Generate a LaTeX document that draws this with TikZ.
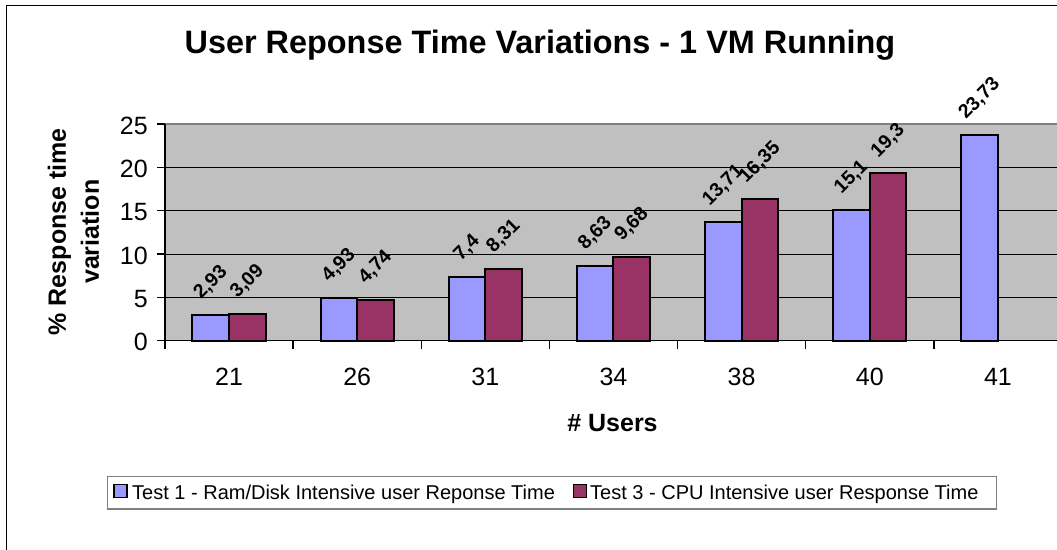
\documentclass[tikz,border=0pt]{standalone}
\usepackage{fontspec}
\setmainfont{Liberation Sans}
\usepackage{graphicx}
\definecolor{barblue}{HTML}{9999FF}
\definecolor{barred}{HTML}{993366}
\definecolor{plotgray}{HTML}{C0C0C0}
\definecolor{framegray}{HTML}{808080}
\newcommand{\catbar}[4]{%
  \pgfmathsetmacro{\mybx}{165+#1*128.14+27.46+#2*36.61}%
  \pgfmathsetmacro{\mybtop}{340.7-#3*8.664}%
  \path[bar#2] (\mybx,340.7) rectangle ({\mybx+36.61},\mybtop);%
  \node[datalbl] (lbl#1-#2) at ({\mybx+18.3},{\mybtop-13}) {\rotatebox{45}{#4}};%
}
\begin{document}
\begin{tikzpicture}[x=1pt,y=-1pt,
  bar0/.style={draw=black, line width=2pt, fill=barblue},
  bar1/.style={draw=black, line width=2pt, fill=barred},
  gridline/.style={black, line width=1pt},
  axisline/.style={black, line width=1.3pt},
  ticklbl/.style={font=\fontsize{25}{28}\selectfont, inner sep=0pt},
  axistitle/.style={font=\fontsize{25}{33}\selectfont\bfseries, inner sep=0pt},
  datalbl/.style={font=\fontsize{19.5}{22}\selectfont\bfseries, inner sep=0pt, anchor=south},
  legendtext/.style={font=\fontsize{20}{23}\selectfont, inner sep=0pt, anchor=base west},
  legendkey/.style={draw=black, line width=1.5pt, minimum size=13pt, inner sep=0pt}]
\useasboundingbox (0,0) rectangle (1057,549);
\clip (0,0) rectangle (1057,549);
% outer chart frame
\draw[black, line width=1.5pt] (6.5,600) -- (6.5,5.5) -- (1100,5.5);
% title
\node[font=\fontsize{32.4}{36}\selectfont\bfseries, inner sep=0pt, anchor=base] (title) at (540,53.3) {User Reponse Time Variations - 1 VM Running};
% plot area
\path[fill=plotgray] (165,124.1) rectangle (1062,340.7);
\foreach \v in {5,10,15,20} {
  \draw[gridline] (165,{340.7-\v*8.664}) -- (1062,{340.7-\v*8.664});
}
\draw[framegray, line width=1.5pt] (165,124.1) -- (1062,124.1) -- (1062,340.7);
% bars
\catbar{0}{0}{2.93}{2,93}
\catbar{0}{1}{3.09}{3,09}
\catbar{1}{0}{4.93}{4,93}
\catbar{1}{1}{4.74}{4,74}
\catbar{2}{0}{7.4}{7,4}
\catbar{2}{1}{8.31}{8,31}
\catbar{3}{0}{8.63}{8,63}
\catbar{3}{1}{9.68}{9,68}
\catbar{4}{0}{13.71}{13,71}
\catbar{4}{1}{16.35}{16,35}
\catbar{5}{0}{15.1}{15,1}
\catbar{5}{1}{19.3}{19,3}
\catbar{6}{0}{23.73}{23,73}
% axes
\draw[axisline] (165,124.1) -- (165,340.7);
\draw[axisline] (165,340.7) -- (1062,340.7);
\foreach \v in {0,5,...,25} {
  \draw[axisline] (157,{340.7-\v*8.664}) -- (165,{340.7-\v*8.664});
  \node[ticklbl, anchor=base east] (yl\v) at (148,{340.7-\v*8.664+10}) {\v};
}
\foreach \k in {0,...,7} {
  \draw[axisline] ({165+\k*128.14},340.7) -- ({165+\k*128.14},348.5);
}
\foreach \k/\t in {0/21,1/26,2/31,3/34,4/38,5/40,6/41} {
  \node[ticklbl, anchor=base] (xl\k) at ({165+\k*128.14+64.07},385) {\t};
}
% axis titles
\node[axistitle, align=center, rotate=90] (ytitle) at (73.5,231.7) {\% Response time\\variation};
\node[axistitle, anchor=base] (xtitle) at (612.5,431) {\# Users};
% legend
\node[draw=framegray, line width=1.2pt, fill=white, minimum width=889pt, minimum height=32.6pt, inner sep=0pt, anchor=north west] (legend) at (107,475.7) {};
\node[legendkey, fill=barblue] (key1) at (120.3,491) {};
\node[legendtext] (leg1) at (132,499) {Test 1 - Ram/Disk Intensive user Reponse Time};
\node[legendkey, fill=barred] (key2) at (580,491) {};
\node[legendtext] (leg2) at (590,499) {Test 3 - CPU Intensive user Response Time};
\end{tikzpicture}
\end{document}
